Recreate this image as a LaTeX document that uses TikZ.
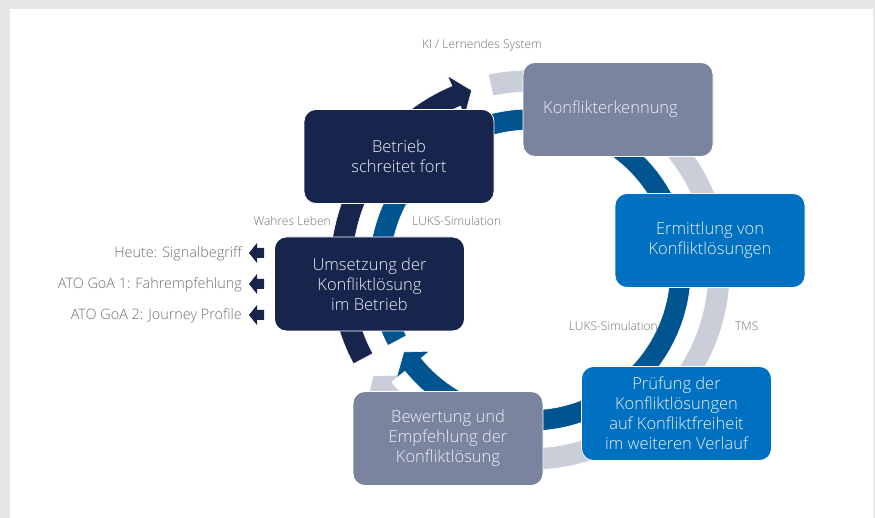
\documentclass[tikz,border=0pt]{standalone}
\usepackage{fontspec}
\setmainfont{Open Sans}
\newfontfamily\boxfont{Open Sans Light}
\definecolor{navy}{RGB}{23,36,76}
\definecolor{midblue}{RGB}{0,84,143}
\definecolor{brightblue}{RGB}{0,112,192}
\definecolor{slate}{RGB}{122,132,158}
\definecolor{lightband}{RGB}{201,206,217}
\definecolor{labelgray}{RGB}{112,112,112}
\definecolor{boxtext}{RGB}{238,241,246}
\definecolor{framegray}{RGB}{230,231,233}
\newcommand{\cyclearrow}[6]{% colour, inner r, outer r, start angle, back angle, apex angle
  \path[fill=#1, draw=white, line width=0.6pt]
    plot[domain=#4:#5, samples=120] ({530+#3*cos(\x)},{270-#3*sin(\x)})
    -- ({530+(#3+11)*cos(#5)},{270-(#3+11)*sin(#5)})
    -- ({530+(#2+#3)/2*cos(#6)},{270-(#2+#3)/2*sin(#6)})
    -- ({530+(#2-11)*cos(#5)},{270-(#2-11)*sin(#5)})
    -- plot[domain=#5:#4, samples=120] ({530+#2*cos(\x)},{270-#2*sin(\x)})
    -- cycle;}
\begin{document}
\begin{tikzpicture}[x=1pt,y=-1pt,
  stepbox/.style={rounded corners=12pt, minimum width=190pt, minimum height=94pt,
    draw=white, line width=0.8pt, text=boxtext, align=center, inner sep=0pt,
    font=\boxfont\fontsize{16.5}{20}\selectfont},
  lbl/.style={text=labelgray, inner sep=0pt, font=\boxfont\fontsize{12}{14}\selectfont},
  outlbl/.style={text=labelgray, inner sep=0pt, anchor=east, font=\boxfont\fontsize{14.4}{17}\selectfont},
  outarrow/.style={fill=navy}]
\fill[framegray] (0,0) rectangle (875,518);
\fill[white] (10,9) rectangle (873,518);
\useasboundingbox (0,0) rectangle (875,518);

% circular arrows
\cyclearrow{lightband}{178}{200}{102}{-141}{-146}
\cyclearrow{navy}{178}{200}{208}{113}{108}
\cyclearrow{midblue}{140}{161}{208}{-141}{-147}

% boxes
\node[stepbox, fill=slate] (detect) at (618,109.5) {Konflikterkennung\kern15pt};
\node[stepbox, fill=navy] (advance) at (399,156.5) {Betrieb\\schreitet fort};
\node[stepbox, fill=navy] (apply) at (369.5,284) {Umsetzung der\\Konfliktlösung\\im Betrieb};
\node[stepbox, fill=brightblue] (solve) at (710,240.5) {Ermittlung von\\Konfliktlösungen};
\node[stepbox, fill=brightblue] (check) at (676.5,413.5) {Prüfung der\\Konfliktlösungen\\auf Konfliktfreiheit\\im weiteren Verlauf};
\node[stepbox, fill=slate] (rate) at (448,438.5) {Bewertung und\\Empfehlung der\\Konfliktlösung};

% labels
\node[lbl] (ki) at (482,45) {KI / Lernendes System};
\node[lbl, anchor=east] (life) at (331,221) {Wahres Leben};
\node[lbl, anchor=west] (simA) at (412,221) {LUKS-Simulation};
\node[lbl, anchor=east] (simB) at (658,326) {LUKS-Simulation};
\node[lbl, anchor=west] (tms) at (735,326) {TMS};

% outputs
\node[outlbl] (out1) at (242,254) {Heute: Signalbegriff};
\node[outlbl] (out2) at (242,285) {ATO GoA 1: Fahrempfehlung};
\node[outlbl] (out3) at (242,315.5) {ATO GoA 2: Journey Profile};
\foreach \yy in {253,284,315}{
  \fill[outarrow] (249,\yy) -- (257,\yy-10) -- (257,\yy-5) -- (264,\yy-5)
    -- (264,\yy+5) -- (257,\yy+5) -- (257,\yy+10) -- cycle;
}
\end{tikzpicture}
\end{document}
